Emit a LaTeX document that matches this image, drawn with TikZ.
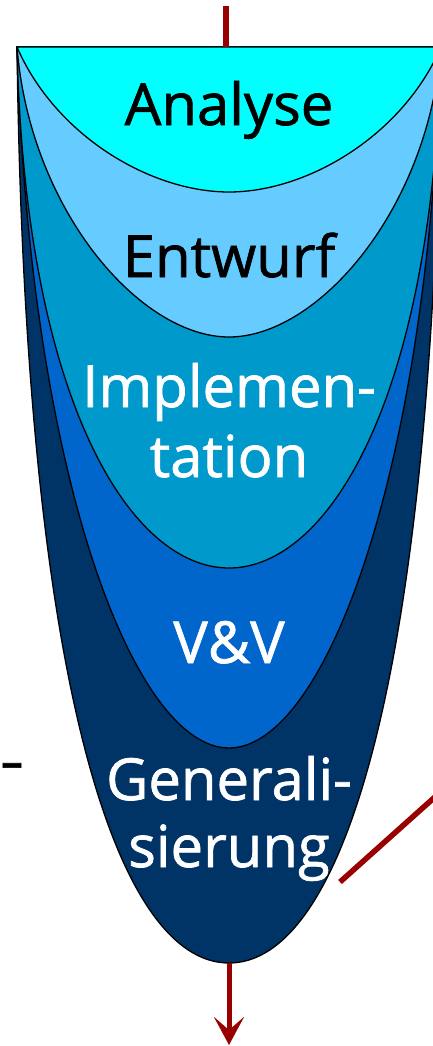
\documentclass[tikz,border=0pt]{standalone}
\usepackage{fontspec}
\setmainfont{Open Sans}
\newfontfamily\phasefont{Open Sans}[FakeBold=1.2]
\usetikzlibrary{arrows.meta}
\definecolor{anaC}{HTML}{00FFFF}
\definecolor{entC}{HTML}{66CCFF}
\definecolor{impC}{HTML}{0099CC}
\definecolor{vvC}{HTML}{0066CC}
\definecolor{genC}{HTML}{003366}
\definecolor{flowred}{HTML}{990000}
\begin{document}
\begin{tikzpicture}[x=1pt,y=-1pt,
  layer/.style={draw=black, line width=1.3pt, line join=round},
  phase/.style={font=\phasefont\fontsize{58}{70}\selectfont, align=center, inner sep=0pt, anchor=base},
  flow/.style={draw=flowred, line width=5.5pt}]
\useasboundingbox (0,0) rectangle (433,1046);
\fill[white] (0,0) rectangle (433,1046);
\begin{scope}
\clip (0,0) rectangle (433,1046);
% layers, back to front
\path[layer, fill=genC] (17,47) .. controls (25,700) and (120,963) .. (229,963)
   .. controls (338,963) and (433,700) .. (441,47) -- cycle;
\path[layer, fill=vvC] (17,47) .. controls (30,480) and (135,748) .. (229,748)
   .. controls (323,748) and (428,480) .. (441,47) -- cycle;
\path[layer, fill=impC] (17,47) .. controls (25,400) and (130,568) .. (229,568)
   .. controls (328,568) and (433,400) .. (441,47) -- cycle;
\path[layer, fill=entC] (17,47) .. controls (30,210) and (140,337) .. (229,337)
   .. controls (318,337) and (428,210) .. (441,47) -- cycle;
\path[layer, fill=anaC] (17,47) .. controls (55,135) and (150,192) .. (229,192)
   .. controls (308,192) and (403,135) .. (441,47) -- cycle;
% connectors
\coordinate (redtop) at (226,6);
\coordinate (anatop) at (226,47);
\coordinate (genbot) at (229,963);
\coordinate (outtip) at (229,1045);
\coordinate (backstart) at (340,882);
\coordinate (backend) at (455,779);
\draw[flow] (redtop) -- (anatop);
\draw[flow, line width=5pt, -{Stealth[length=28pt,width=30pt,inset=13pt]}] (genbot) -- (outtip);
\draw[flow] (backstart) -- (backend);
% labels (anchor base = baseline of the last line)
\node[phase, text=black] (ana) at (229,125) {Analyse};
\node[phase, text=black] (ent) at (229,277) {Entwurf};
\node[phase, text=white] (imp) at (229,477) {Implemen-\\tation};
\node[phase, text=white] (vv) at (229,663) {V\&V};
\node[phase, text=white, font=\phasefont\fontsize{58}{67}\selectfont] (gen) at (229,867) {Generali-\\sierung};
\node[phase, text=black] (dash) at (12,781) {\scalebox{1.3}[1]{-}};
\end{scope}
\end{tikzpicture}
\end{document}
